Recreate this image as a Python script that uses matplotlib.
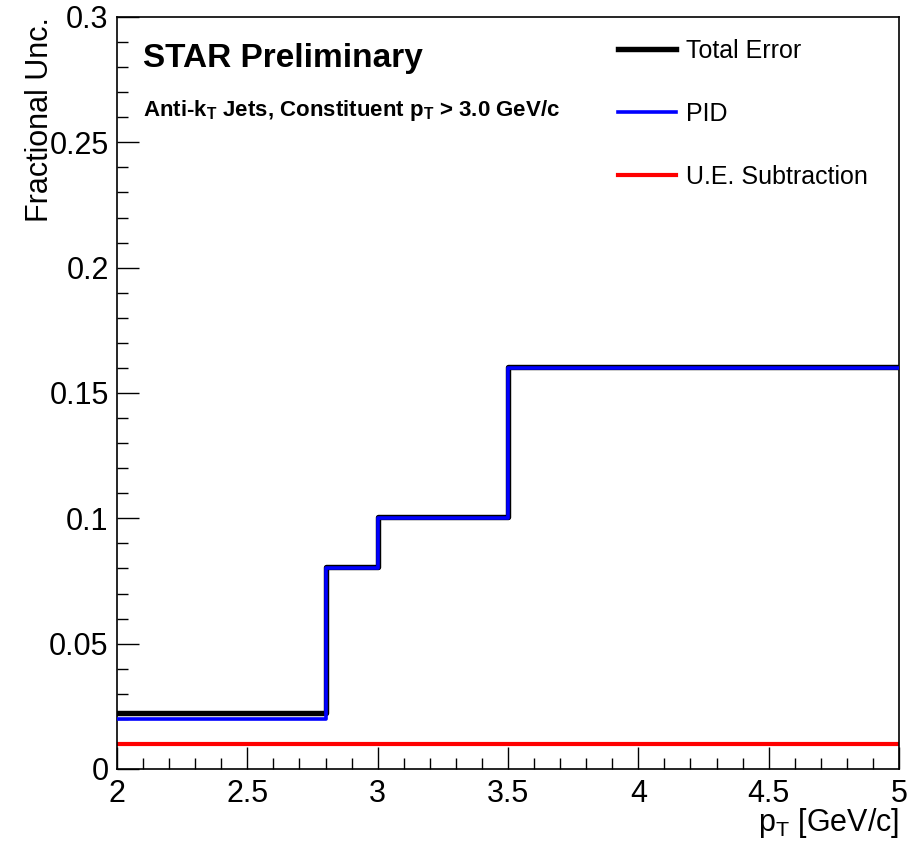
import matplotlib
matplotlib.use("Agg")
import matplotlib.pyplot as plt
from matplotlib.ticker import MultipleLocator
import numpy as np

plt.rcParams['font.family'] = ['Liberation Sans', 'DejaVu Sans']
plt.rcParams['mathtext.fontset'] = 'custom'
plt.rcParams['mathtext.rm'] = 'Liberation Sans'
plt.rcParams['mathtext.it'] = 'Liberation Sans'
plt.rcParams['mathtext.bf'] = 'Liberation Sans:bold'

bin_edges = [2.0, 2.8, 3.0, 3.5, 5.0]
total_error = [0.0224, 0.0806, 0.1005, 0.1603]
pid = [0.020, 0.080, 0.100, 0.160]
ue_sub = [0.010, 0.010, 0.010, 0.010]

W, H = 911, 844
fig = plt.figure(figsize=(W / 100, H / 100), dpi=100)
ax = fig.add_axes([117 / W, (H - 769) / H, (899 - 117) / W, (769 - 17) / H])

def step(values):
    return np.append(values, values[-1])

ax.step(bin_edges, step(total_error), where='post', color='black', lw=3.9, label='Total Error', zorder=3)
ax.step(bin_edges, step(pid), where='post', color='#0000ff', lw=2.6, label='PID', zorder=4)
ax.step(bin_edges, step(ue_sub), where='post', color='#ff0000', lw=3.0, label='U.E. Subtraction', zorder=2)

ax.set_xlim(2, 5)
ax.set_ylim(0, 0.3)
ax.xaxis.set_minor_locator(MultipleLocator(0.1))
ax.yaxis.set_minor_locator(MultipleLocator(0.01))
ax.set_xticks([2, 2.5, 3, 3.5, 4, 4.5, 5])
ax.set_xticklabels(['2', '2.5', '3', '3.5', '4', '4.5', '5'])
ax.set_yticks([0, 0.05, 0.1, 0.15, 0.2, 0.25, 0.3])
ax.set_yticklabels(['0', '0.05', '0.1', '0.15', '0.2', '0.25', '0.3'])

ax.tick_params(which='both', direction='in', top=False, right=False, labelsize=22, width=1)
ax.tick_params(which='major', length=16)
ax.tick_params(which='minor', length=8)
ax.tick_params(axis='x', pad=7)
ax.tick_params(axis='y', pad=6)
for s in ax.spines.values():
    s.set_linewidth(1.2)

ax.set_ylabel('Fractional Unc.', fontsize=22, loc='top', labelpad=-4)
ax.set_xlabel(r'p$_{\mathrm{T}}$ [GeV/c]', fontsize=22, loc='right', labelpad=-2)

fig.text(143 / W, (H - 67) / H, 'STAR Preliminary',
         fontsize=24, fontweight='bold', va='baseline', ha='left')
fig.text(143 / W, (H - 116) / H, r'Anti-k$_{\mathbf{T}}$ Jets, Constituent p$_{\mathbf{T}}$ > 3.0 GeV/c',
         fontsize=16, fontweight='bold', va='baseline', ha='left')

leg = ax.legend(loc='upper left', bbox_to_anchor=(618 / W, (H - 39) / H), bbox_transform=fig.transFigure,
                frameon=False, fontsize=18, handlelength=2.3, handletextpad=0.42, labelspacing=1.55,
                borderpad=0, borderaxespad=0)

fig.savefig('out.png', dpi=100)
